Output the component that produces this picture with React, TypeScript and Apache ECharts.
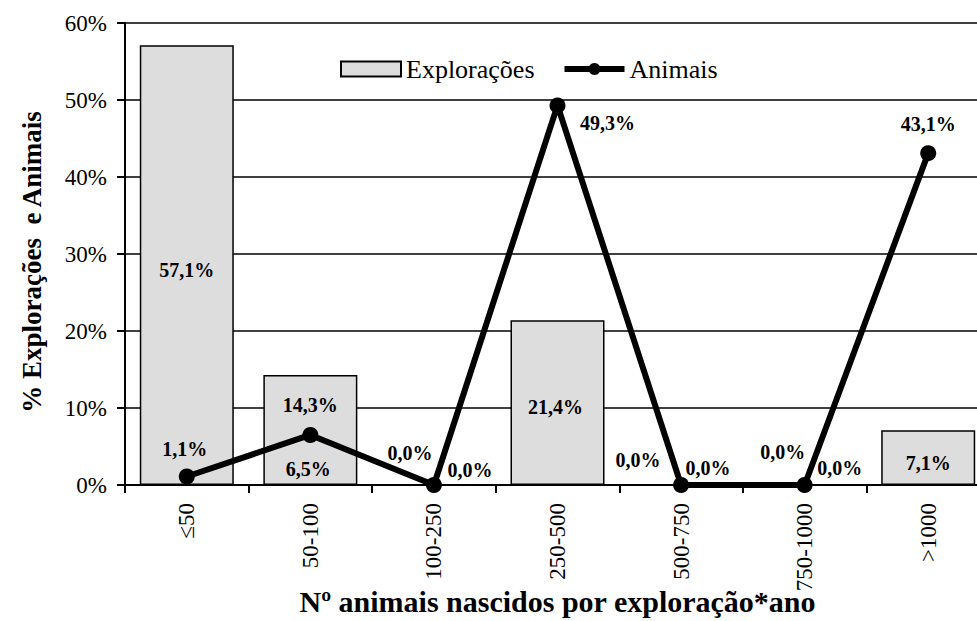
import React, { useEffect, useRef } from 'react';
import * as echarts from 'echarts';

const categories = ['≤50', '50-100', '100-250', '250-500', '500-750', '750-1000', '>1000'];
const exploracoes = [57.1, 14.3, 0.0, 21.4, 0.0, 0.0, 7.1];
const animais = [1.1, 6.5, 0.0, 49.3, 0.0, 0.0, 43.1];
const seriesNames = ['Explorações', 'Animais'];
const yAxisTitle = '% Explorações  e Animais';
const xAxisTitle = 'Nº animais nascidos por exploração*ano';

// label placement (style only)
const barLabelOffsets: [number, number][] = [[0, 5], [0, -25], [36, -15], [-2, 4], [27, -17], [35, -17], [0, 5]];
const lineLabelOffsets: [number, number][] = [[-2, -28], [-2, 34], [-24, -32], [50, 18], [-43, -25], [-22, -33], [0, -29]];

const FONT = 'Liberation Serif, Times New Roman, serif';
const fmt = (v: number) => v.toFixed(1).replace('.', ',') + '%';

export default function App() {
  const ref = useRef<HTMLDivElement>(null);
  useEffect(() => {
    if (!ref.current) return;
    const chart = echarts.init(ref.current, undefined, { renderer: 'svg' });
    const labelStyle = {
      show: true,
      position: 'inside' as const,
      fontFamily: FONT,
      fontWeight: 'bold' as const,
      fontSize: 20,
      color: '#000',
      formatter: (p: any) => fmt(p.value),
    };
    chart.setOption({
      animation: false,
      backgroundColor: '#fff',
      textStyle: { fontFamily: FONT, color: '#000' },
      grid: { left: 125, top: 23, bottom: 136, right: 10, containLabel: false, outerBoundsMode: 'none' },
      legend: {
        left: 335,
        top: 51,
        itemWidth: 60,
        itemHeight: 15,
        itemGap: 27,
        textStyle: { fontFamily: FONT, fontSize: 26, color: '#000' },
        data: [
          { name: seriesNames[0], icon: 'rect' },
          { name: seriesNames[1], lineStyle: { width: 6, color: '#000' } },
        ],
      },
      xAxis: {
        type: 'category',
        data: categories,
        name: xAxisTitle,
        nameLocation: 'middle',
        nameGap: 101,
        nameMoveOverlap: false,
        nameTextStyle: { fontFamily: FONT, fontWeight: 'bold', fontSize: 30, color: '#000' },
        axisLine: { lineStyle: { color: '#000', width: 2 } },
        axisTick: { show: true, length: 8, lineStyle: { color: '#000', width: 2 } },
        axisLabel: { rotate: 90, fontFamily: FONT, fontSize: 23, color: '#000', margin: 18 },
      },
      yAxis: {
        type: 'value',
        min: 0,
        max: 60,
        interval: 10,
        name: yAxisTitle,
        nameLocation: 'middle',
        nameRotate: 90,
        nameGap: 80,
        nameMoveOverlap: false,
        nameTextStyle: { fontFamily: FONT, fontWeight: 'bold', fontSize: 27, color: '#000', padding: [0, 16, 0, 0] },
        axisLine: { show: true, lineStyle: { color: '#000', width: 2 } },
        axisTick: { show: true, length: 8, lineStyle: { color: '#000', width: 2 } },
        axisLabel: { formatter: '{value}%', fontFamily: FONT, fontSize: 23, color: '#000', margin: 18 },
        splitLine: { show: true, lineStyle: { color: '#000', width: 1.5 } },
      },
      series: [
        {
          name: seriesNames[0],
          type: 'bar',
          barWidth: 94,
          itemStyle: { color: '#dddddd', borderColor: '#000', borderWidth: 1.5 },
          label: labelStyle,
          data: exploracoes.map((v, i) => ({ value: v, label: { offset: barLabelOffsets[i] } })),
          z: 2,
        },
        {
          name: seriesNames[1],
          type: 'line',
          symbol: 'circle',
          symbolSize: 16,
          lineStyle: { color: '#000', width: 6 },
          itemStyle: { color: '#000' },
          label: labelStyle,
          data: animais.map((v, i) => ({ value: v, label: { offset: lineLabelOffsets[i] } })),
          z: 3,
        },
      ],
    });
    return () => chart.dispose();
  }, []);
  return (
    <div style={{ position: 'fixed', left: 0, top: 0, width: 977, height: 621, overflow: 'hidden', background: '#fff' }}>
      <div ref={ref} style={{ width: 1000, height: 621 }} />
    </div>
  );
}
